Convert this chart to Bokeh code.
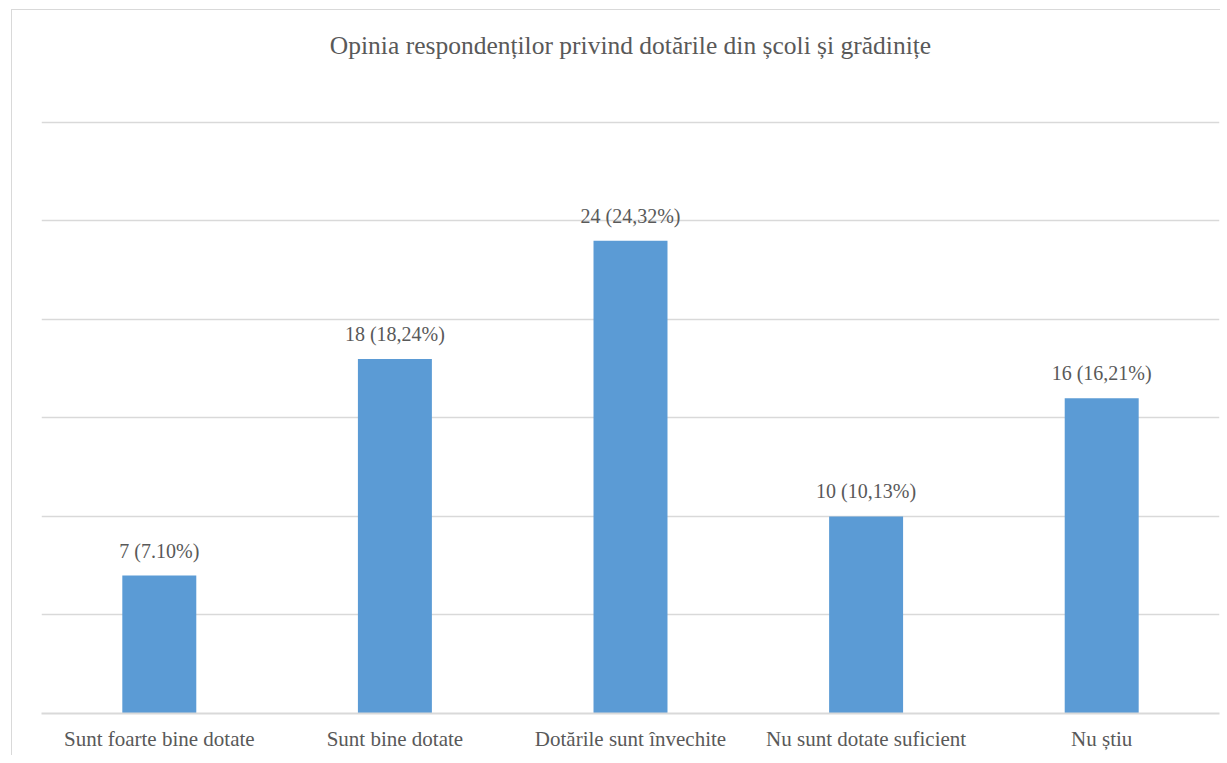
from bokeh.plotting import figure
from bokeh.models import ColumnDataSource, Title, FixedTicker
from bokeh.core.properties import value
from bokeh.embed import file_html
from bokeh.resources import INLINE

categories = ["Sunt foarte bine dotate", "Sunt bine dotate", "Dotările sunt învechite",
              "Nu sunt dotate suficient", "Nu știu"]
counts = [7, 18, 24, 10, 16]
labels = ["7 (7.10%)", "18 (18,24%)", "24 (24,32%)", "10 (10,13%)", "16 (16,21%)"]
y_ticks = [0, 5, 10, 15, 20, 25, 30]

src = ColumnDataSource(dict(cat=categories, val=counts, lab=labels))

FONT = "'Liberation Serif', 'Times New Roman', serif"
TXT = "#595959"

p = figure(x_range=categories, y_range=(0, 30.1), width=1209, height=746,
           output_backend="svg", toolbar_location=None,
           min_border_left=29, min_border_right=2, min_border_top=110, min_border_bottom=43,
           styles={"margin-left": "11px", "margin-top": "9px",
                   "border-left": "1.5px solid #d9d9d9", "border-top": "1.5px solid #d9d9d9"})

p.vbar(x="cat", top="val", width=0.314, source=src, color="#5B9BD5", line_color=None)
p.text(x="cat", y="val", text="lab", source=src, text_align="center", text_baseline="bottom",
       y_offset=-14, text_font=value(FONT), text_font_size="20px", text_color=TXT)

# spacer between the frame and the title (keeps the title high above the plot)
spacer = Title(text=" ", text_font_size="2px", standoff=52)
p.add_layout(spacer, "above")
t = Title(text="Opinia respondenților privind dotările din școli și grădinițe", align="center",
          text_font=FONT, text_font_size="25.5px", text_font_style="normal", text_color=TXT,
          standoff=10)
p.add_layout(t, "above")

p.outline_line_color = None
p.background_fill_color = "white"
p.border_fill_color = "white"
p.yaxis.visible = False
p.ygrid.ticker = FixedTicker(ticks=y_ticks)
p.ygrid.grid_line_color = "#d9d9d9"
p.ygrid.grid_line_width = 1.5
p.xgrid.grid_line_color = None

ax = p.xaxis[0]
ax.axis_line_color = "#d9d9d9"
ax.axis_line_width = 2
ax.major_tick_line_color = None
ax.minor_tick_line_color = None
ax.major_label_standoff = 7
ax.major_label_text_font = FONT
ax.major_label_text_font_size = "21px"
ax.major_label_text_color = TXT

open("out.html", "w").write(file_html(p, INLINE))
